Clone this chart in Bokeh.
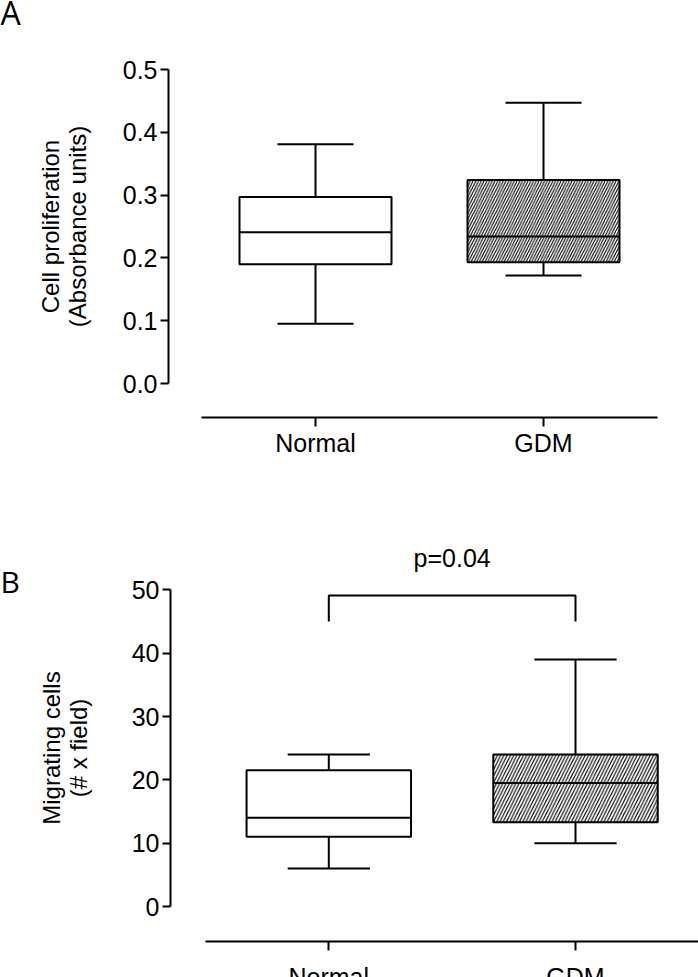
from bokeh.plotting import figure
from bokeh.layouts import column
from bokeh.models import FixedTicker, Range1d
from bokeh.core.properties import value
from bokeh.embed import file_html
from bokeh.resources import INLINE

# ---------------- data ----------------
groups = ["Normal", "GDM"]
group_x = [1, 2]

# Panel A: cell proliferation (absorbance units)
prolif_min = [0.095, 0.172]
prolif_q1 = [0.190, 0.193]
prolif_median = [0.241, 0.234]
prolif_q3 = [0.297, 0.324]
prolif_max = [0.381, 0.447]
prolif_ticks = [0.0, 0.1, 0.2, 0.3, 0.4, 0.5]
prolif_tick_labels = ["0.0", "0.1", "0.2", "0.3", "0.4", "0.5"]

# Panel B: migrating cells (# x field)
migr_min = [6, 10]
migr_q1 = [11, 13.3]
migr_median = [14, 19.5]
migr_q3 = [21.5, 24]
migr_max = [24, 39]
migr_ticks = [0, 10, 20, 30, 40, 50]
migr_tick_labels = ["0", "10", "20", "30", "40", "50"]

bracket_x = [1, 1, 2, 2]
bracket_y = [45, 49.1, 49.1, 45]
p_text = ["p=0.04"]
p_text_x = [1.5]
p_text_y = [55.1]

panel_letters = ["A", "B"]

FONT = "Liberation Sans"
LW = 2
BOX_W = 2 / 3
CAP_W = 1 / 3
PAGE_W = 698
PAGE_H = 977


class Geo:
    """Pixel geometry of one panel (figure-local pixels)."""
    def __init__(self, height, x1, px_per_x, y0, px_per_y, axis_x, axis_y):
        self.h = height
        self.x1, self.kx = x1, px_per_x
        self.y0, self.ky = y0, px_per_y
        self.axis_x, self.axis_y = axis_x, axis_y

    def dx(self, px):
        return 1 + (px - self.x1) / self.kx

    def dy(self, py):
        return (self.y0 - py) / self.ky


def make_panel(g, yticks, ylabels, ylabel, ybounds, label_standoff, xlabel_standoff):
    p = figure(width=PAGE_W, height=g.h, output_backend="svg", toolbar_location=None,
               title=None,
               x_range=Range1d(g.dx(0), g.dx(PAGE_W)), y_range=Range1d(g.dy(g.h), g.dy(0)),
               min_border_left=0, min_border_right=0, min_border_top=0, min_border_bottom=0)
    p.outline_line_color = None
    p.xgrid.visible = False
    p.ygrid.visible = False
    p.background_fill_color = "white"
    p.border_fill_color = "white"

    ya = p.yaxis[0]
    ya.fixed_location = g.dx(g.axis_x)
    ya.ticker = FixedTicker(ticks=yticks)
    ya.major_label_overrides = {t: l for t, l in zip(yticks, ylabels)}
    ya.bounds = ybounds
    ya.axis_label = ylabel
    ya.axis_label_text_font = FONT
    ya.axis_label_text_font_size = "24px"
    ya.axis_label_text_font_style = "normal"
    ya.axis_label_text_color = "black"
    ya.axis_label_text_line_height = 1.0
    ya.axis_label_standoff = label_standoff
    ya.major_label_text_font = FONT
    ya.major_label_text_font_size = "25px"
    ya.major_label_text_color = "black"
    ya.major_label_standoff = 3
    ya.axis_line_width = LW
    ya.axis_line_color = "black"
    ya.major_tick_line_width = LW
    ya.major_tick_line_color = "black"
    ya.major_tick_out = 8
    ya.major_tick_in = 0
    ya.minor_tick_line_color = None

    xa = p.xaxis[0]
    xa.fixed_location = g.dy(g.axis_y)
    xa.ticker = FixedTicker(ticks=group_x)
    xa.major_label_overrides = {x: gr for x, gr in zip(group_x, groups)}
    xa.bounds = (0.5, 2.5)
    xa.major_label_text_font = FONT
    xa.major_label_text_font_size = "25px"
    xa.major_label_text_color = "black"
    xa.major_label_standoff = xlabel_standoff
    xa.axis_line_width = LW
    xa.axis_line_color = "black"
    xa.major_tick_line_width = LW
    xa.major_tick_line_color = "black"
    xa.major_tick_out = 9
    xa.major_tick_in = 0
    xa.minor_tick_line_color = None
    return p


def draw_boxes(p, mn, q1, med, q3, mx, hatch_scale):
    xs = group_x
    p.segment(x0=xs, y0=q3, x1=xs, y1=mx, line_color="black", line_width=LW)
    p.segment(x0=xs, y0=mn, x1=xs, y1=q1, line_color="black", line_width=LW)
    p.segment(x0=[x - CAP_W / 2 for x in xs], y0=mx, x1=[x + CAP_W / 2 for x in xs], y1=mx,
              line_color="black", line_width=LW)
    p.segment(x0=[x - CAP_W / 2 for x in xs], y0=mn, x1=[x + CAP_W / 2 for x in xs], y1=mn,
              line_color="black", line_width=LW)
    p.vbar(x=xs[:1], width=BOX_W, bottom=q1[:1], top=q3[:1], fill_color="white",
           line_color="black", line_width=LW)
    p.vbar(x=xs[1:], width=BOX_W, bottom=q1[1:], top=q3[1:], fill_color="white",
           line_color="black", line_width=LW, hatch_pattern="right_diagonal_line",
           hatch_color="black", hatch_scale=hatch_scale, hatch_weight=1.1)
    p.segment(x0=[x - BOX_W / 2 for x in xs], y0=med, x1=[x + BOX_W / 2 for x in xs], y1=med,
              line_color="black", line_width=LW)


def draw_letter(p, g, letter, baseline_py, size):
    p.text(x=[g.dx(0)], y=[g.dy(baseline_py)], text=[letter], text_font=value("Open Sans"),
           text_font_size=size, text_align="left", text_baseline="alphabetic",
           text_color="black")


# ---------------- Panel A ----------------
HA = 490
ga = Geo(HA, x1=315.0, px_per_x=228.0, y0=383.0, px_per_y=628.0, axis_x=168, axis_y=417)
pa = make_panel(ga, prolif_ticks, prolif_tick_labels,
                "Cell proliferation\n(Absorbance units)", (0, 0.5), 29, 2)
draw_boxes(pa, prolif_min, prolif_q1, prolif_median, prolif_q3, prolif_max, 5.5)
draw_letter(pa, ga, panel_letters[0], 12, "32px")

# ---------------- Panel B ----------------
HB = PAGE_H - HA
gb = Geo(HB, x1=328.3, px_per_x=246.7, y0=906.0 - HA, px_per_y=6.333,
         axis_x=170, axis_y=941 - HA)
pb = make_panel(gb, migr_ticks, migr_tick_labels, "Migrating cells\n(# x field)", (0, 50), 37, 12)
draw_boxes(pb, migr_min, migr_q1, migr_median, migr_q3, migr_max, 6.5)
pb.line(x=bracket_x, y=bracket_y, line_color="black", line_width=LW)
pb.text(x=p_text_x, y=p_text_y, text=p_text, text_font=value(FONT), text_font_size="25px",
        text_align="center", text_baseline="alphabetic", text_color="black")
draw_letter(pb, gb, panel_letters[1], 581 - HA, "30px")

layout = column(pa, pb, spacing=0)
open("out.html", "w").write(file_html(layout, INLINE))
